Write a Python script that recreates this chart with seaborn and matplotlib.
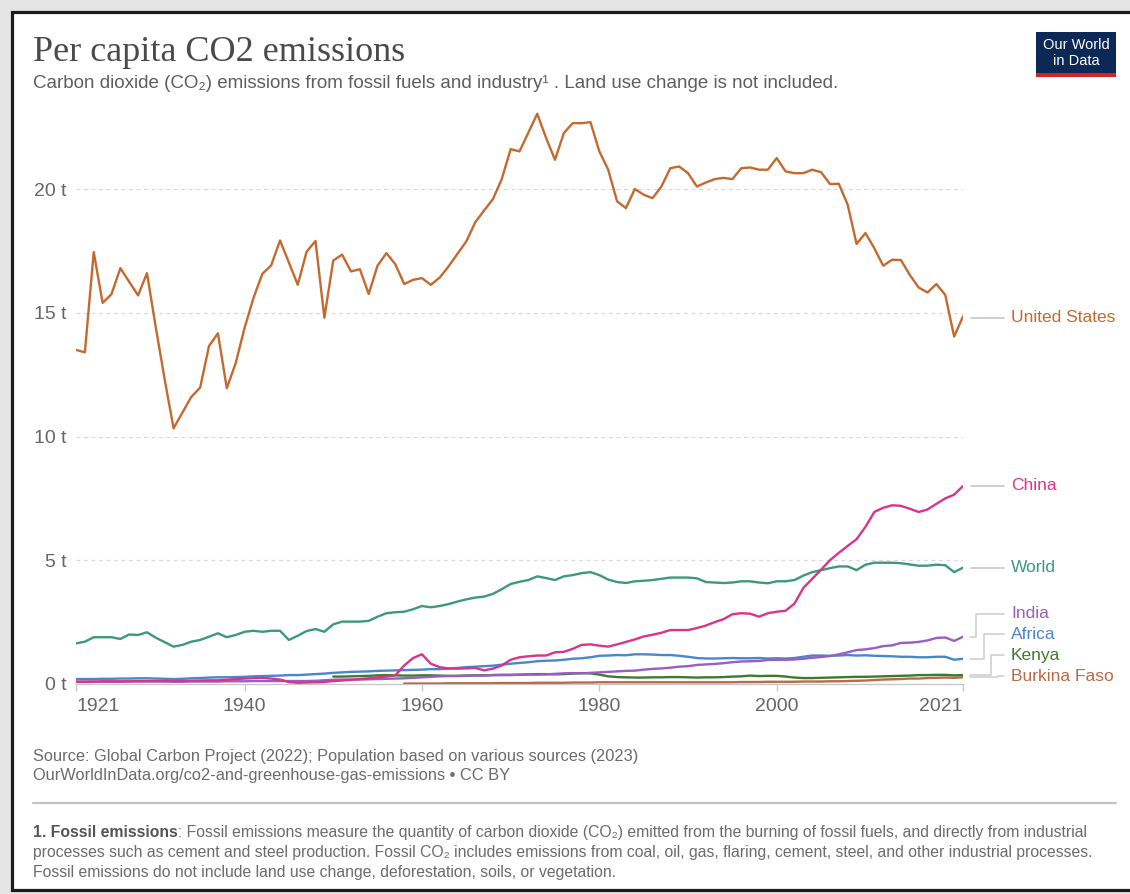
import numpy as np
import pandas as pd
import matplotlib
matplotlib.use("Agg")
import matplotlib.pyplot as plt
from matplotlib.patches import Rectangle
import seaborn as sns

# ---------------- data ----------------
years_full = list(range(1921, 2022))

united_states = [13.5, 13.4, 17.45, 15.4, 15.75, 16.8, 16.25, 15.7, 16.6, 14.4,
                 12.3, 10.33, 10.97, 11.6, 11.98, 13.66, 14.17, 11.95, 12.96, 14.38,
                 15.59, 16.57, 16.91, 17.92, 17.03, 16.13, 17.47, 17.9, 14.8, 17.11,
                 17.35, 16.67, 16.76, 15.76, 16.91, 17.41, 16.96, 16.16, 16.33, 16.4,
                 16.13, 16.42, 16.87, 17.38, 17.88, 18.65, 19.13, 19.59, 20.4, 21.61,
                 21.52, 22.28, 23.04, 22.06, 21.18, 22.26, 22.66, 22.66, 22.7, 21.52,
                 20.78, 19.5, 19.23, 20.0, 19.77, 19.63, 20.1, 20.84, 20.91, 20.64,
                 20.1, 20.26, 20.4, 20.45, 20.4, 20.84, 20.87, 20.78, 20.78, 21.25,
                 20.71, 20.64, 20.64, 20.78, 20.68, 20.2, 20.21, 19.36, 17.78, 18.22,
                 17.61, 16.9, 17.14, 17.13, 16.53, 16.02, 15.82, 16.16, 15.72, 14.04,
                 14.85]

world = [1.64, 1.71, 1.89, 1.89, 1.89, 1.82, 2.0, 1.98, 2.09, 1.87,
         1.69, 1.51, 1.58, 1.71, 1.78, 1.91, 2.05, 1.89, 1.98, 2.11,
         2.15, 2.11, 2.15, 2.15, 1.78, 1.95, 2.14, 2.22, 2.11, 2.41,
         2.52, 2.52, 2.52, 2.55, 2.72, 2.86, 2.9, 2.92, 3.02, 3.15,
         3.1, 3.15, 3.23, 3.33, 3.42, 3.49, 3.53, 3.64, 3.83, 4.04,
         4.13, 4.2, 4.35, 4.28, 4.2, 4.35, 4.4, 4.48, 4.52, 4.4,
         4.22, 4.12, 4.08, 4.15, 4.17, 4.2, 4.25, 4.3, 4.3, 4.3,
         4.27, 4.12, 4.1, 4.08, 4.1, 4.15, 4.15, 4.1, 4.07, 4.15,
         4.15, 4.2, 4.38, 4.52, 4.6, 4.68, 4.75, 4.75, 4.6, 4.82,
         4.9, 4.9, 4.9, 4.88, 4.83, 4.78, 4.78, 4.82, 4.8, 4.52,
         4.7]

china = [0.1, 0.1, 0.1, 0.11, 0.11, 0.11, 0.11, 0.12, 0.12, 0.12,
         0.12, 0.12, 0.13, 0.13, 0.14, 0.15, 0.15, 0.17, 0.2, 0.22,
         0.24, 0.25, 0.22, 0.18, 0.08, 0.05, 0.06, 0.07, 0.08, 0.12,
         0.14, 0.17, 0.2, 0.23, 0.27, 0.3, 0.35, 0.75, 1.05, 1.2,
         0.82, 0.68, 0.63, 0.62, 0.63, 0.65, 0.55, 0.62, 0.75, 0.98,
         1.08, 1.12, 1.15, 1.15, 1.28, 1.3, 1.42, 1.58, 1.6, 1.55,
         1.51, 1.6, 1.7, 1.8, 1.92, 1.99, 2.07, 2.18, 2.18, 2.18,
         2.26, 2.36, 2.5, 2.62, 2.82, 2.86, 2.84, 2.72, 2.86, 2.92,
         2.96, 3.25, 3.88, 4.25, 4.62, 5.0, 5.3, 5.58, 5.85, 6.35,
         6.95, 7.12, 7.22, 7.2, 7.08, 6.95, 7.05, 7.28, 7.5, 7.65,
         8.0]

india = [0.08, 0.08, 0.09, 0.09, 0.09, 0.09, 0.1, 0.1, 0.1, 0.1,
         0.1, 0.09, 0.09, 0.1, 0.1, 0.1, 0.1, 0.11, 0.11, 0.11,
         0.12, 0.12, 0.12, 0.12, 0.12, 0.12, 0.12, 0.13, 0.15, 0.17,
         0.18, 0.18, 0.18, 0.19, 0.2, 0.21, 0.22, 0.23, 0.25, 0.27,
         0.29, 0.31, 0.32, 0.32, 0.34, 0.34, 0.34, 0.36, 0.36, 0.36,
         0.37, 0.38, 0.38, 0.39, 0.41, 0.43, 0.44, 0.43, 0.45, 0.47,
         0.49, 0.51, 0.53, 0.54, 0.58, 0.61, 0.63, 0.66, 0.7, 0.72,
         0.77, 0.79, 0.81, 0.84, 0.88, 0.91, 0.92, 0.93, 0.97, 0.98,
         0.98, 0.99, 1.02, 1.06, 1.09, 1.13, 1.2, 1.28, 1.37, 1.4,
         1.45, 1.53, 1.56, 1.66, 1.67, 1.7, 1.76, 1.86, 1.88, 1.74,
         1.91]

africa = [0.2, 0.2, 0.2, 0.21, 0.21, 0.22, 0.22, 0.23, 0.23, 0.22,
          0.21, 0.2, 0.21, 0.23, 0.24, 0.26, 0.27, 0.27, 0.28, 0.29,
          0.31, 0.32, 0.33, 0.34, 0.36, 0.36, 0.38, 0.4, 0.42, 0.45,
          0.47, 0.49, 0.5, 0.51, 0.53, 0.54, 0.55, 0.56, 0.57, 0.58,
          0.6, 0.6, 0.62, 0.65, 0.68, 0.7, 0.72, 0.74, 0.78, 0.82,
          0.85, 0.88, 0.92, 0.94, 0.95, 0.98, 1.02, 1.04, 1.08, 1.14,
          1.15, 1.17, 1.16, 1.2, 1.2, 1.19, 1.17, 1.17, 1.14, 1.1,
          1.05, 1.03, 1.03, 1.04, 1.05, 1.04, 1.04, 1.05, 1.03, 1.04,
          1.03, 1.05, 1.1, 1.15, 1.15, 1.14, 1.15, 1.17, 1.15, 1.16,
          1.14, 1.13, 1.12, 1.1, 1.1, 1.08, 1.08, 1.1, 1.1, 0.98,
          1.02]

years_kenya = list(range(1950, 2022))
kenya = [0.3, 0.3, 0.31, 0.32, 0.33, 0.35, 0.36, 0.35, 0.34, 0.34, 0.35,
         0.35, 0.34, 0.33, 0.33, 0.34, 0.35, 0.35, 0.36, 0.37, 0.37,
         0.38, 0.39, 0.4, 0.4, 0.39, 0.4, 0.42, 0.44, 0.43, 0.38,
         0.31, 0.28, 0.27, 0.26, 0.26, 0.27, 0.27, 0.28, 0.28, 0.27,
         0.26, 0.27, 0.27, 0.28, 0.3, 0.31, 0.34, 0.32, 0.33, 0.33,
         0.3, 0.26, 0.24, 0.24, 0.25, 0.26, 0.27, 0.28, 0.29, 0.29,
         0.3, 0.31, 0.32, 0.33, 0.34, 0.36, 0.36, 0.37, 0.37, 0.35,
         0.36]

years_burkina = list(range(1958, 2022))
burkina_faso = [0.02, 0.02, 0.02,
                0.02, 0.02, 0.03, 0.03, 0.03, 0.03, 0.03, 0.03, 0.04, 0.04,
                0.04, 0.04, 0.05, 0.05, 0.05, 0.05, 0.06, 0.06, 0.06, 0.07,
                0.07, 0.07, 0.07, 0.07, 0.07, 0.07, 0.07, 0.07, 0.07, 0.07,
                0.07, 0.07, 0.07, 0.07, 0.07, 0.08, 0.08, 0.08, 0.09, 0.09,
                0.09, 0.09, 0.1, 0.1, 0.1, 0.11, 0.11, 0.12, 0.13, 0.14,
                0.16, 0.18, 0.19, 0.2, 0.22, 0.22, 0.24, 0.25, 0.26, 0.25,
                0.27]

countries = ["Burkina Faso", "Kenya", "Africa", "India", "World", "China", "United States"]
series = {
    "United States": (years_full, united_states),
    "China": (years_full, china),
    "World": (years_full, world),
    "India": (years_full, india),
    "Africa": (years_full, africa),
    "Kenya": (years_kenya, kenya),
    "Burkina Faso": (years_burkina, burkina_faso),
}
x_ticks = [1921, 1940, 1960, 1980, 2000, 2021]
y_ticks = [0, 5, 10, 15, 20]
y_tick_labels = ["0 t", "5 t", "10 t", "15 t", "20 t"]

# label positions (data units) for the right-hand labels
label_y = {"United States": 14.79, "China": 8.0, "World": 4.69,
           "India": 2.83, "Africa": 2.02, "Kenya": 1.17, "Burkina Faso": 0.32}

palette = {"United States": "#C4692F", "China": "#D8358A", "World": "#3C9A78",
           "India": "#9A5DC0", "Africa": "#4A86D0", "Kenya": "#3E7A2E",
           "Burkina Faso": "#BA6A48"}

rows = []
for c in countries:
    yrs, vals = series[c]
    for y, v in zip(yrs, vals):
        rows.append({"country": c, "year": y, "value": v})
df = pd.DataFrame(rows)

# ---------------- style ----------------
sns.set_theme(style="white")
plt.rcParams["font.family"] = ["Liberation Sans", "DejaVu Sans"]

W, H = 1130, 894
fig = plt.figure(figsize=(W / 100, H / 100), dpi=100)
fig.patch.set_facecolor("#e4e4e4")

def fx(px):
    return px / W

def fy(py):
    return 1 - py / H

# white framed panel
fig.add_artist(Rectangle((fx(11.5), fy(890)), fx(1140 - 11.5), (890 - 11.5) / H,
                         transform=fig.transFigure, facecolor="white",
                         edgecolor="#1c1c1c", linewidth=2.3, zorder=0))

ax = fig.add_axes([fx(76), fy(684), fx(963 - 76), (684 - 90) / H])
ax.set_facecolor("none")

sns.lineplot(data=df, x="year", y="value", hue="country", hue_order=countries,
             palette=palette, linewidth=1.7, legend=False, estimator=None,
             ax=ax, zorder=3)

ax.set_xlim(1921, 2021)
ax.set_ylim(0, 24)
ax.set_xlabel("")
ax.set_ylabel("")

for s in ["top", "right", "left"]:
    ax.spines[s].set_visible(False)
ax.spines["bottom"].set_color("#c8c8c8")
ax.spines["bottom"].set_linewidth(1.0)

ax.set_yticks(y_ticks)
ax.set_yticklabels(y_tick_labels)
ax.tick_params(axis="y", length=0, pad=7, labelsize=14, labelcolor="#666666")
for yv in y_ticks[1:]:
    ax.axhline(yv, color="#d9d9d9", linewidth=0.9, linestyle=(0, (3, 3)), zorder=1)

ax.set_xticks(x_ticks)
ax.set_xticklabels([str(v) for v in x_ticks])
ax.tick_params(axis="x", length=5, width=1, color="#c8c8c8", pad=5,
               labelsize=14, labelcolor="#666666", bottom=True)
xl = ax.get_xticklabels()
xl[0].set_horizontalalignment("left")
xl[-1].set_horizontalalignment("right")

# connectors and labels
conn = "#cccccc"
x_end = 2021.8
x_lab_end = 2025.6
x_text = 2026.4
elbow_x = {"India": 2022.5, "Africa": 2023.35, "Kenya": 2024.2, "Burkina Faso": 2025.0}
for c in countries:
    yrs, vals = series[c]
    yl = label_y[c]
    if c in elbow_x:
        ex = elbow_x[c]
        ax.plot([x_end, ex, ex, x_lab_end], [vals[-1], vals[-1], yl, yl],
                color=conn, linewidth=1.1, clip_on=False, zorder=2)
    else:
        ax.plot([x_end + 0.1, x_lab_end], [yl, yl], color=conn, linewidth=1.3,
                clip_on=False, zorder=2)
    ax.text(x_text, yl, c, color=palette[c], fontsize=12.5, va="center",
            ha="left", clip_on=False)

# ---------------- titles ----------------
fig.text(fx(33), fy(61), "Per capita CO2 emissions", fontsize=26,
         family=["Liberation Serif", "DejaVu Serif"], color="#4a4a4a", va="baseline")
fig.text(fx(33), fy(88),
         "Carbon dioxide (CO\u2082) emissions from fossil fuels and industry\u00b9 . Land use change is not included.",
         fontsize=13.5, color="#5e5e5e", va="baseline")

# logo
fig.add_artist(Rectangle((fx(1036), fy(77)), fx(80), 45 / H, transform=fig.transFigure,
                         facecolor="#0b2856", edgecolor="none", zorder=2))
fig.add_artist(Rectangle((fx(1036), fy(77)), fx(80), 4 / H, transform=fig.transFigure,
                         facecolor="#d4261f", edgecolor="none", zorder=3))
fig.text(fx(1076), fy(45), "Our World", fontsize=10.5, color="white", ha="center",
         va="center", zorder=4)
fig.text(fx(1076), fy(61), "in Data", fontsize=10.5, color="white", ha="center",
         va="center", zorder=4)

# ---------------- footer ----------------
foot_col = "#6b6b6b"
fig.text(fx(33), fy(761), "Source: Global Carbon Project (2022); Population based on various sources (2023)",
         fontsize=11.8, color=foot_col, va="baseline")
fig.text(fx(33), fy(780), "OurWorldInData.org/co2-and-greenhouse-gas-emissions \u2022 CC BY",
         fontsize=11.8, color=foot_col, va="baseline")
fig.add_artist(plt.Line2D([fx(33), fx(1116)], [fy(803), fy(803)], transform=fig.transFigure,
                          color="#c4c4c4", linewidth=1.6))

fn_size = 11.3
bold_t = fig.text(fx(33), fy(837), "1. Fossil emissions", fontsize=fn_size, color="#555555",
                  weight="bold", va="baseline")
fig.canvas.draw()
bb = bold_t.get_window_extent(renderer=fig.canvas.get_renderer())
fig.text(bb.x1 / W, fy(837),
         ": Fossil emissions measure the quantity of carbon dioxide (CO\u2082) emitted from the burning of fossil fuels, and directly from industrial",
         fontsize=fn_size, color=foot_col, va="baseline")
fig.text(fx(33), fy(857),
         "processes such as cement and steel production. Fossil CO\u2082 includes emissions from coal, oil, gas, flaring, cement, steel, and other industrial processes.",
         fontsize=fn_size, color=foot_col, va="baseline")
fig.text(fx(33), fy(877),
         "Fossil emissions do not include land use change, deforestation, soils, or vegetation.",
         fontsize=fn_size, color=foot_col, va="baseline")

fig.savefig("out.png", dpi=100, facecolor=fig.get_facecolor())
